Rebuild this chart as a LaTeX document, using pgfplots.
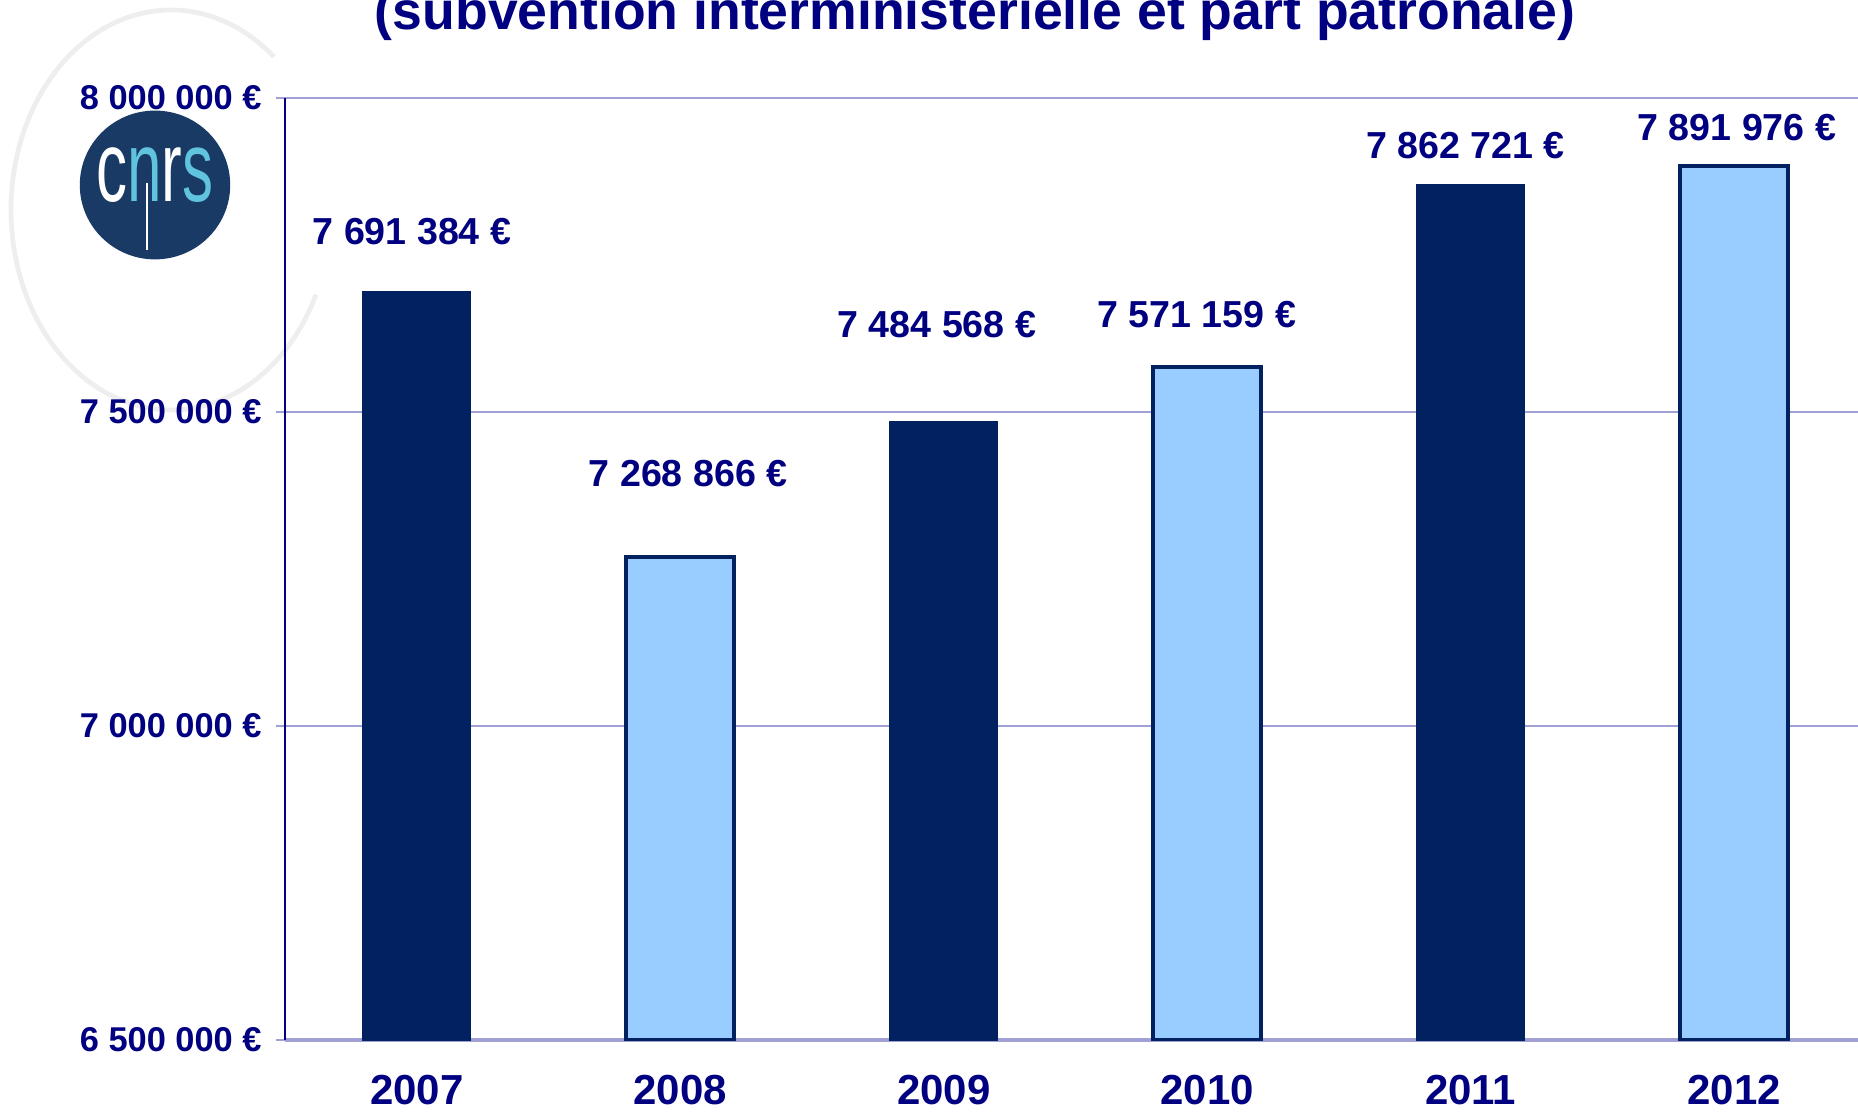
\documentclass[border=0pt]{standalone}
\usepackage{fontspec}
\setmainfont{Liberation Sans}
\usepackage{pgfplots}
\pgfplotsset{compat=1.18}
\definecolor{navytxt}{RGB}{0,0,128}
\definecolor{darkbar}{RGB}{2,33,96}
\definecolor{lightbar}{RGB}{153,204,255}
\definecolor{gridc}{RGB}{160,160,212}
\definecolor{logobg}{RGB}{24,58,100}
\definecolor{logocyan}{RGB}{96,196,222}

\begin{document}
\begin{tikzpicture}
\useasboundingbox (0,0) rectangle (464.5pt,277.75pt);
\clip (0,0) rectangle (464.5pt,277.75pt);

% faint disc behind the logo
\draw[gray!13, line width=1.2pt] ([shift={(50:40pt and 50pt)}]42.75pt,225.25pt)
  arc[start angle=50, end angle=335, x radius=40pt, y radius=50pt];
% logo
\fill[logobg] (38.75pt,231.5pt) ellipse [x radius=18.8pt, y radius=18.6pt];
\node[anchor=base, font=\fontsize{25}{25}\selectfont, xscale=0.62, inner sep=0pt] at (38.75pt,227.25pt)
  {\textcolor{white}{c}\textcolor{logocyan}{n}\textcolor{white}{r}\textcolor{logocyan}{s}};
\draw[white, line width=0.6pt] (36.75pt,232pt) -- (36.75pt,215.25pt);

\node[anchor=base, font=\bfseries\fontsize{13.4}{15}\selectfont, text=navytxt]
  at (243.75pt,270.3pt) {(subvention interministérielle et part patronale)};

\begin{axis}[
  at={(71.25pt,17.75pt)}, anchor=south west,
  scale only axis,
  width=395.25pt, height=235.5pt,
  xmin=-0.5, xmax=5.5,
  ymin=6500000, ymax=8000000,
  axis x line*=bottom, axis y line*=left,
  x axis line style={gridc, line width=0.8pt, -},
  y axis line style={navytxt, line width=0.5pt, -},
  xtick={0,1,2,3,4,5},
  xticklabels={2007,2008,2009,2010,2011,2012},
  xtick style={draw=none},
  xticklabel style={anchor=center, yshift=-10.2pt, font=\bfseries\fontsize{10.5}{12}\selectfont, text=navytxt},
  ytick={6500000,7000000,7500000,8000000},
  yticklabels={6 500 000 €,7 000 000 €,7 500 000 €,8 000 000 €},
  yticklabel style={anchor=east, inner sep=0pt, xshift=-3.4pt, font=\bfseries\fontsize{8.6}{10}\selectfont, text=navytxt},
  tick align=outside, major tick length=2.25pt,
  ytick style={gridc, line width=0.5pt},
  ymajorgrids, grid style={gridc, line width=0.5pt},
  scaled y ticks=false,
]
\addplot[ybar, bar width=0.41, fill=darkbar, draw=darkbar, line width=0.3pt]
  coordinates {(0,7691384) (2,7484568) (4,7862721)};
\addplot[ybar, bar width=0.41, fill=lightbar, draw=darkbar, line width=1pt]
  coordinates {(1,7268866) (3,7571159) (5,7891976)};
\addplot[draw=none, mark=none, nodes near coords, point meta=explicit symbolic,
  nodes near coords style={anchor=center, font=\bfseries\fontsize{9.4}{11}\selectfont, text=navytxt}]
  coordinates {
    (-0.018,7786600) [7 691 384 €]
    (1.03,7401300) [7 268 866 €]
    (1.974,7638500) [7 484 568 €]
    (2.96,7654500) [7 571 159 €]
    (3.98,7923600) [7 862 721 €]
    (5.01,7952200) [7 891 976 €]
  };
\end{axis}
\end{tikzpicture}
\end{document}
